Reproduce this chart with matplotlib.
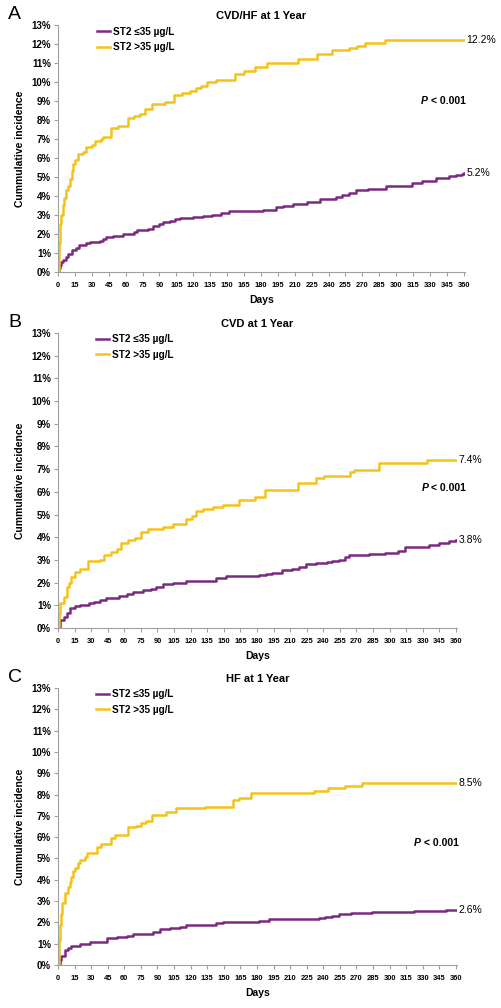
import numpy as np
import matplotlib.pyplot as plt

plt.rcParams['font.family'] = ['Liberation Sans', 'DejaVu Sans']

purple = '#7a2a80'
yellow = '#f5c21b'

# panel A - CVD/HF
a_days_high = [0, 1, 2, 3, 4, 5, 7, 9, 11, 12, 13, 15, 18, 22, 25, 30, 33, 38, 40, 47, 53, 62, 67, 73, 77,
               83, 95, 103, 110, 117, 122, 127, 132, 140, 157, 165, 175, 185, 213, 230, 243, 258, 265, 272, 290, 360]
a_inc_high = [0, 1.5, 2.5, 3.0, 3.5, 3.9, 4.3, 4.5, 4.9, 5.3, 5.7, 5.9, 6.2, 6.3, 6.6, 6.7, 6.9, 7.0, 7.1, 7.6, 7.7,
              8.1, 8.2, 8.3, 8.6, 8.85, 8.95, 9.3, 9.4, 9.5, 9.7, 9.8, 10.0, 10.1, 10.4, 10.6, 10.8, 11.0, 11.2,
              11.45, 11.7, 11.8, 11.9, 12.05, 12.2, 12.2]
a_days_low = [0, 1, 2, 3, 4, 7, 9, 12, 16, 19, 25, 28, 37, 40, 43, 49, 58, 67, 70, 80, 84, 90, 93, 99, 104, 108,
              120, 129, 137, 145, 152, 175, 182, 193, 200, 208, 221, 232, 247, 252, 258, 264, 275, 291, 309, 314,
              323, 335, 347, 353, 358, 360]
a_inc_low = [0, 0.2, 0.35, 0.5, 0.63, 0.8, 0.95, 1.15, 1.25, 1.4, 1.5, 1.6, 1.65, 1.75, 1.86, 1.9, 2.0, 2.1, 2.2,
             2.25, 2.4, 2.5, 2.65, 2.7, 2.8, 2.85, 2.9, 2.95, 3.0, 3.1, 3.2, 3.22, 3.28, 3.4, 3.45, 3.6, 3.7, 3.84,
             3.96, 4.05, 4.15, 4.3, 4.35, 4.5, 4.55, 4.7, 4.8, 4.95, 5.03, 5.1, 5.15, 5.2]

# panel B - CVD
b_days_high = [0, 1, 2, 5, 8, 10, 12, 15, 20, 27, 38, 42, 48, 53, 57, 63, 70, 75, 81, 95, 101, 104, 116, 121, 125,
               131, 140, 149, 164, 178, 187, 217, 233, 241, 264, 268, 290, 334, 360]
b_inc_high = [0, 0.6, 1.1, 1.38, 1.8, 2.0, 2.26, 2.45, 2.6, 2.96, 3.0, 3.2, 3.35, 3.5, 3.76, 3.88, 3.95, 4.24, 4.35,
              4.43, 4.45, 4.6, 4.79, 4.93, 5.15, 5.23, 5.32, 5.42, 5.64, 5.78, 6.1, 6.37, 6.6, 6.7, 6.86, 6.96,
              7.25, 7.4, 7.4]
b_days_low = [0, 2, 5, 8, 11, 15, 20, 28, 33, 38, 43, 55, 62, 68, 77, 84, 89, 95, 104, 116, 134, 143, 152, 182, 188,
              194, 203, 212, 218, 224, 233, 243, 248, 254, 260, 263, 281, 296, 308, 314, 336, 345, 354, 360]
b_inc_low = [0, 0.35, 0.5, 0.65, 0.88, 0.95, 1.0, 1.08, 1.15, 1.23, 1.33, 1.4, 1.5, 1.58, 1.67, 1.7, 1.82, 1.92,
             2.0, 2.05, 2.08, 2.2, 2.27, 2.33, 2.4, 2.43, 2.55, 2.6, 2.7, 2.8, 2.88, 2.9, 2.95, 3.0, 3.14, 3.2,
             3.25, 3.3, 3.4, 3.55, 3.65, 3.73, 3.83, 3.87]

# panel C - HF
c_days_high = [0, 1, 2, 3, 4, 6, 9, 11, 12, 14, 15, 18, 20, 24, 26, 35, 39, 48, 52, 63, 71, 75, 80, 85, 98, 107,
               133, 158, 164, 175, 232, 244, 260, 275, 360]
c_inc_high = [0, 1.17, 1.9, 2.4, 2.9, 3.4, 3.67, 3.9, 4.15, 4.4, 4.55, 4.8, 4.93, 5.08, 5.24, 5.55, 5.68, 5.95, 6.1,
              6.46, 6.53, 6.68, 6.78, 7.04, 7.2, 7.36, 7.43, 7.75, 7.83, 8.06, 8.17, 8.29, 8.42, 8.55, 8.55]
c_days_low = [0, 2, 3, 6, 9, 12, 20, 29, 38, 44, 53, 62, 68, 86, 92, 101, 110, 116, 137, 143, 149, 182, 191, 236,
              242, 248, 254, 265, 284, 322, 351, 360]
c_inc_low = [0, 0.25, 0.4, 0.7, 0.8, 0.9, 1.0, 1.06, 1.1, 1.25, 1.3, 1.35, 1.44, 1.56, 1.67, 1.75, 1.8, 1.86, 1.9,
             1.98, 2.03, 2.08, 2.14, 2.19, 2.24, 2.3, 2.38, 2.43, 2.47, 2.54, 2.58, 2.58]

titles = ['CVD/HF at 1 Year', 'CVD at 1 Year', 'HF at 1 Year']
letters = ['A', 'B', 'C']
end_high = ['12.2%', '7.4%', '8.5%']
end_low = ['5.2%', '3.8%', '2.6%']
p_pos = [(322, 9.0), (329, 6.17), (322, 5.73)]
labels = ['ST2 \u226435 \u00b5g/L', 'ST2 >35 \u00b5g/L']

W, H = 501, 1008
fig = plt.figure(figsize=(W / 100, H / 100), dpi=100)

# axes boxes in pixels: left, right, top, bottom
boxes = [(58, 465, 25, 272), (58, 457, 333, 628), (58, 457, 688, 965)]
data = [(a_days_low, a_inc_low, a_days_high, a_inc_high),
        (b_days_low, b_inc_low, b_days_high, b_inc_high),
        (c_days_low, c_inc_low, c_days_high, c_inc_high)]

for i in range(3):
    l, r, t, b = boxes[i]
    ax = fig.add_axes([l / W, 1 - b / H, (r - l) / W, (b - t) / H])
    dl, il, dh, ih = data[i]
    ax.step(dl, il, where='post', color=purple, lw=1.8, label=labels[0])
    ax.step(dh, ih, where='post', color=yellow, lw=1.8, label=labels[1])
    ax.set_xlim(0, 361)
    ax.set_ylim(0, 13)
    ax.set_xticks(np.arange(0, 361, 15))
    ax.set_yticks(np.arange(0, 14, 1))
    ax.set_yticklabels(['%d%%' % v for v in range(14)])
    for s in ['top', 'right']:
        ax.spines[s].set_visible(False)
    for s in ['left', 'bottom']:
        ax.spines[s].set_color('#a0a0a0')
        ax.spines[s].set_linewidth(0.8)
    ax.tick_params(axis='both', color='#a0a0a0', length=3, width=0.8)
    ax.tick_params(axis='y', labelsize=7, pad=2)
    ax.tick_params(axis='x', labelsize=5.4, pad=4.5)
    for lab in ax.get_xticklabels() + ax.get_yticklabels():
        lab.set_fontweight('bold')
    ax.set_xlabel('Days', fontsize=7.5, fontweight='bold', labelpad=4)
    ax.set_ylabel('Cummulative incidence', fontsize=7.5, fontweight='bold')
    ax.yaxis.set_label_coords((25 - l) / (r - l), 0.5)
    ax.set_title(titles[i], fontsize=8, fontweight='bold', pad=4)
    fig.text(8 / W, 1 - (t - 2) / H, letters[i], fontsize=14, va='bottom', ha='left')

    ax.annotate(end_high[i], (dh[-1], ih[-1]), xytext=(2, 0), textcoords='offset points',
                fontsize=7.5, va='center', ha='left', annotation_clip=False)
    ax.annotate(end_low[i], (dl[-1], il[-1]), xytext=(2, 0), textcoords='offset points',
                fontsize=7.5, va='center', ha='left', annotation_clip=False)

    px, py = p_pos[i]
    ax.text(px, py, 'P', fontsize=7.5, fontweight='bold', style='italic', va='center', ha='left')
    ax.annotate('< 0.001', (px, py), xytext=(7, 0), textcoords='offset points',
                fontsize=7.5, fontweight='bold', va='center', ha='left')

    leg = ax.legend(loc='upper left', bbox_to_anchor=(0.085, 1.01), frameon=False,
                    handlelength=1.3, handletextpad=0.3, labelspacing=0.55, borderaxespad=0,
                    prop={'size': 7.2, 'weight': 'bold'})

fig.savefig('out.png', dpi=100)
